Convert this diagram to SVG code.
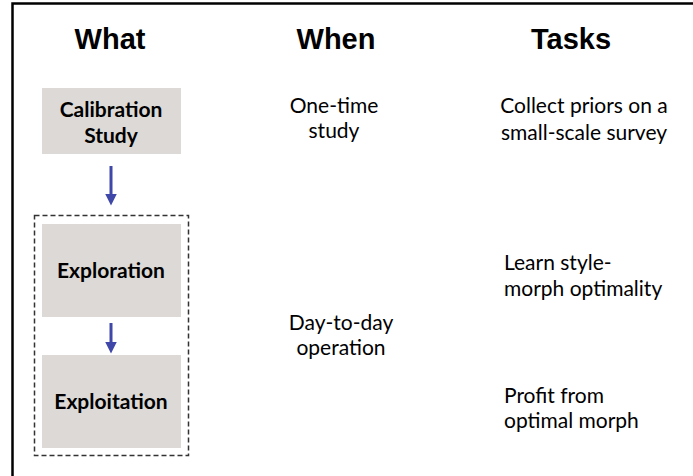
<svg xmlns="http://www.w3.org/2000/svg" width="693" height="476" viewBox="0 0 693 476">
<style>
.title{font-family:"Liberation Sans",Arial,sans-serif;font-weight:bold;font-size:29px;fill:#000;text-anchor:middle}
.box{fill:#dcd9d6}
.bl{font-family:Lato,"Open Sans",sans-serif;font-weight:bold;font-size:21px;fill:#000;text-anchor:middle}
.t{font-family:Lato,"Open Sans",sans-serif;font-size:21px;fill:#000}
.c{text-anchor:middle}
.arrow{stroke:#3f47a8;stroke-width:3;fill:none}
</style>
<defs>
<marker id="ah" markerWidth="4" markerHeight="4" refX="2.5" refY="2" orient="auto" markerUnits="strokeWidth">
<path d="M0,0 L4,2 L0,4 Z" fill="#3f47a8"/>
</marker>
</defs>
<rect width="693" height="476" fill="#fff"/>
<path d="M12.5,476 V3.5 H693" stroke="#000" stroke-width="2.5" fill="none"/>
<g id="headers">
<text class="title" x="110" y="49">What</text>
<text class="title" x="336" y="49">When</text>
<text class="title" x="571" y="49">Tasks</text>
</g>
<g id="calibration">
<rect class="box" x="42" y="88" width="139" height="66"/>
<text class="bl" x="111" y="117">Calibration</text>
<text class="bl" x="111" y="143">Study</text>
</g>
<g id="dashed-group">
<rect x="34.5" y="215.5" width="154" height="240" fill="none" stroke="#333" stroke-width="1.5" stroke-dasharray="5,3"/>
</g>
<g id="exploration">
<rect class="box" x="42" y="224" width="139" height="93"/>
<text class="bl" x="111" y="278">Exploration</text>
</g>
<g id="exploitation">
<rect class="box" x="42" y="355" width="139" height="93"/>
<text class="bl" x="111" y="409">Exploitation</text>
</g>
<g id="connectors">
<line class="arrow" x1="111" y1="166" x2="111" y2="201" marker-end="url(#ah)"/>
<line class="arrow" x1="111" y1="323" x2="111" y2="349" marker-end="url(#ah)"/>
</g>
<g id="when">
<text class="t c" x="334" y="113">One-time</text>
<text class="t c" x="334" y="138">study</text>
<text class="t c" x="341" y="330">Day-to-day</text>
<text class="t c" x="341" y="355">operation</text>
</g>
<g id="tasks">
<text class="t c" x="584" y="113">Collect priors on a</text>
<text class="t c" x="584" y="140">small-scale survey</text>
<text class="t" x="504" y="270">Learn style-</text>
<text class="t" x="504" y="296">morph optimality</text>
<text class="t" x="504" y="403">Profit from</text>
<text class="t" x="504" y="428">optimal morph</text>
</g>
</svg>
